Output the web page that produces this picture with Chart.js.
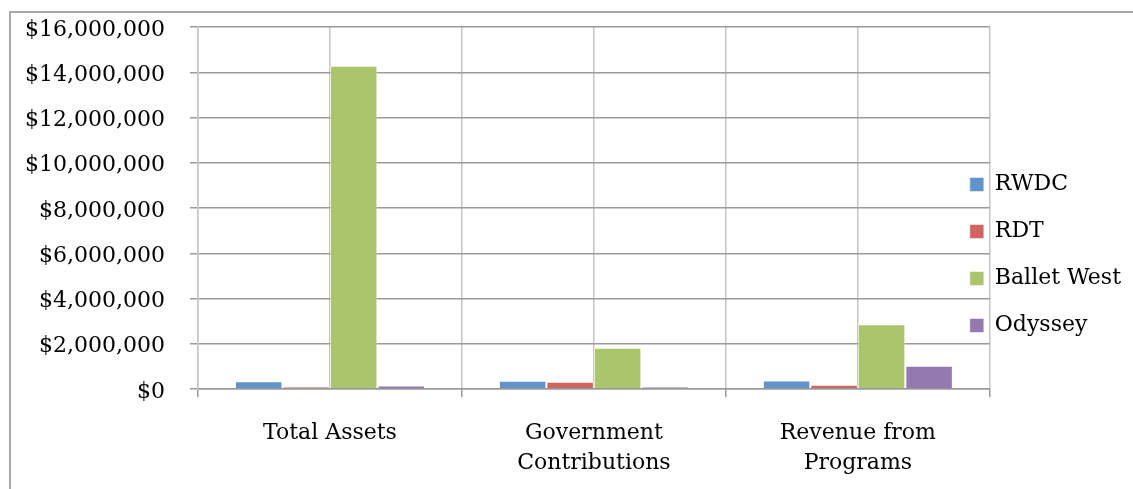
<!DOCTYPE html>
<html>
<head>
<meta charset="utf-8">
<script src="https://cdn.jsdelivr.net/npm/chart.js@4.4.0/dist/chart.umd.min.js"></script>
<style>
  html, body { margin: 0; padding: 0; background: #fff; overflow: hidden; }
  #frame { position: absolute; left: 9px; top: 11px; width: 1300px; height: 600px;
           border-left: 2px solid #a8a8a8; border-top: 2px solid #a8a8a8; }
  #wrap { position: absolute; left: 0; top: 0; width: 1133px; height: 489px; }
</style>
</head>
<body>
<div id="frame"></div>
<div id="wrap"><canvas id="fundChart"></canvas></div>
<script>
// chart data
const categories = [['Total Assets'], ['Government', 'Contributions'], ['Revenue from', 'Programs']];
const seriesNames = ['RWDC', 'RDT', 'Ballet West', 'Odyssey'];
const rwdc = [340000, 360000, 380000];
const rdt = [100000, 320000, 190000];
const balletWest = [14290000, 1820000, 2860000];
const odyssey = [160000, 110000, 1030000];
const seriesColors = ['#6194CB', '#CF6461', '#ABC56B', '#9479B0'];
const yMin = 0;
const yMax = 16000000;
const yStep = 2000000;

const fontFamily = '"DejaVu Serif", serif';
Chart.defaults.font.family = fontFamily;
Chart.defaults.color = '#000';

// legend sits partly over the plot, like the original
const legendShift = {
  id: 'legendShift',
  afterLayout(chart) {
    const lg = chart.legend;
    if (!lg) return;
    const dx = -45, dy = -3;
    lg.left += dx; lg.right += dx;
    lg.top += dy; lg.bottom += dy;
  }
};

const seriesData = [rwdc, rdt, balletWest, odyssey];
const datasets = seriesNames.map((name, i) => ({
  label: name,
  data: seriesData[i],
  backgroundColor: seriesColors[i],
  borderColor: 'rgba(255,255,255,0.5)',
  borderWidth: 1,
  categoryPercentage: 0.72,
  barPercentage: 1.0
}));

new Chart(document.getElementById('fundChart'), {
  type: 'bar',
  data: { labels: categories, datasets: datasets },
  options: {
    responsive: true,
    maintainAspectRatio: false,
    animation: false,
    layout: { padding: { top: 27, right: -43, bottom: 0, left: 0 } },
    plugins: {
      tooltip: { enabled: false },
      legend: {
        position: 'right',
        align: 'center',
        labels: {
          font: { size: 22 },
          boxWidth: 14,
          boxHeight: 14,
          padding: 25
        }
      }
    },
    scales: {
      x: {
        offset: true,
        grid: { offset: true, color: '#c6c6c6', lineWidth: 1.5, drawTicks: true, tickLength: 8, tickColor: '#999' },
        border: { color: '#999', width: 1.5 },
        ticks: { font: { size: 22, lineHeight: 1.36 }, padding: 21, maxRotation: 0, autoSkip: false },
        afterFit(scale) { scale.height = 100; }
      },
      x2: {
        type: 'category',
        labels: categories,
        position: 'top',
        offset: true,
        grid: { offset: false, color: '#c6c6c6', lineWidth: 1.5, drawTicks: false },
        border: { display: false },
        ticks: { display: false },
        afterFit(scale) { scale.height = 0; }
      },
      y: {
        min: yMin,
        max: yMax,
        grid: { color: '#9b9b9b', lineWidth: 1.5, tickLength: 8 },
        border: { color: '#c6c6c6', width: 1.5 },
        ticks: {
          stepSize: yStep,
          font: { size: 22 },
          padding: 25,
          labelOffset: 3,
          callback: (v) => '$' + v.toLocaleString('en-US')
        },
        afterFit(scale) {
          scale.width = 198;
          scale.paddingTop = 0;
          scale.paddingBottom = 0;
        }
      }
    }
  },
  plugins: [legendShift]
});
</script>
</body>
</html>
